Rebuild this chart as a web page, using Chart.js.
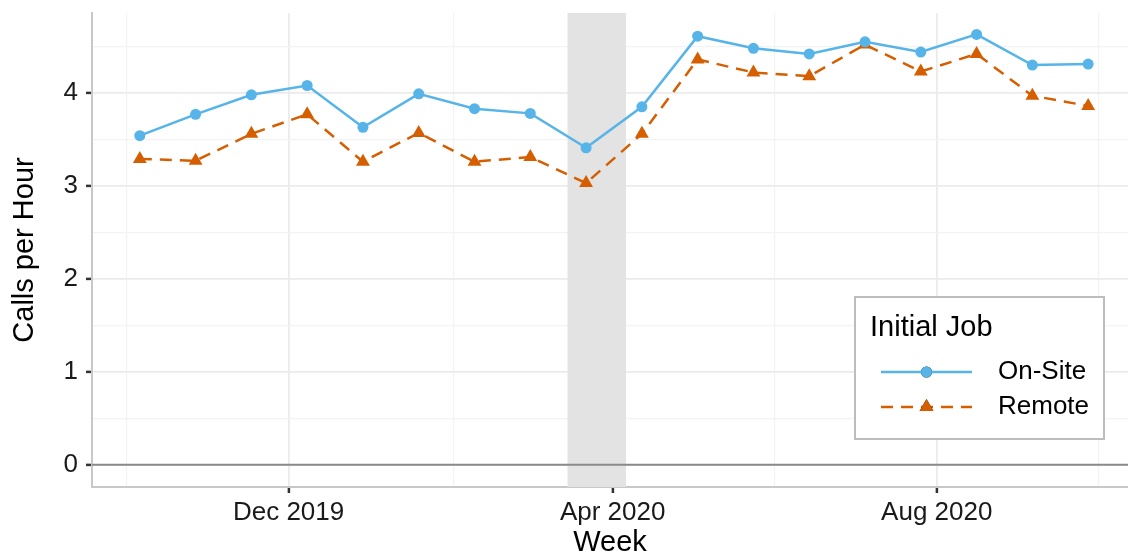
<!DOCTYPE html>
<html>
<head>
<meta charset="utf-8">
<script src="https://cdn.jsdelivr.net/npm/chart.js@4.4.0/dist/chart.umd.min.js"></script>
<style>
  html, body { margin: 0; padding: 0; background: #fff; overflow: hidden; }
  canvas { display: block; }
</style>
</head>
<body>
<canvas id="callsChart" width="1128" height="557"></canvas>
<script>
// weeks sampled every 3 weeks
const weeks = ['2019-10-06', '2019-10-27', '2019-11-17', '2019-12-08', '2019-12-29', '2020-01-19',
  '2020-02-09', '2020-03-01', '2020-03-22', '2020-04-12', '2020-05-03', '2020-05-24',
  '2020-06-14', '2020-07-05', '2020-07-26', '2020-08-16', '2020-09-06', '2020-09-27'];
const onSite = [3.54, 3.77, 3.98, 4.08, 3.63, 3.99, 3.83, 3.78, 3.41, 3.85, 4.61, 4.48, 4.42, 4.55, 4.44, 4.63, 4.30, 4.31];
const remote = [3.29, 3.27, 3.56, 3.77, 3.26, 3.57, 3.26, 3.31, 3.03, 3.56, 4.36, 4.22, 4.18, 4.52, 4.23, 4.42, 3.97, 3.86];

const xTickDates = ['2019-12-01', '2020-04-01', '2020-08-01'];
const xTickLabels = ['Dec 2019', 'Apr 2020', 'Aug 2020'];
const xMinorDates = ['2019-10-01', '2020-02-01', '2020-06-01', '2020-10-01'];
const xLimits = ['2019-09-18', '2020-10-12'];
const yTicks = [0, 1, 2, 3, 4];
const yMinor = [0.5, 1.5, 2.5, 3.5, 4.5];
const yLimits = [-0.24, 4.86];
const shadeDates = ['2020-03-15', '2020-04-06'];

const FONT = "'Liberation Sans', Arial, sans-serif";
const BLUE = '#56B4E9';
const ORANGE = '#D55E00';

function toDay(s) {
  const [y, m, d] = s.split('-').map(Number);
  return Date.UTC(y, m - 1, d) / 864e5;
}
const majorX = xTickDates.map(toDay);
const minorX = xMinorDates.map(toDay);

// no extra room for half tick labels, panel goes to the edges
function noPad(scale) {
  scale.paddingTop = 0;
  scale.paddingBottom = 0;
  scale.paddingLeft = 0;
  scale.paddingRight = 0;
}

// shaded period + zero line, under the lines
const shadePlugin = {
  id: 'shade',
  beforeDatasetsDraw(chart) {
    const { ctx, chartArea, scales } = chart;
    const x1 = scales.x.getPixelForValue(toDay(shadeDates[0]));
    const x2 = scales.x.getPixelForValue(toDay(shadeDates[1]));
    ctx.save();
    ctx.fillStyle = '#e3e3e3';
    ctx.fillRect(x1, chartArea.top, x2 - x1, chartArea.bottom - chartArea.top);
    const y0 = scales.y.getPixelForValue(0);
    ctx.strokeStyle = '#8a8a8a';
    ctx.lineWidth = 2;
    ctx.beginPath();
    ctx.moveTo(chartArea.left, y0);
    ctx.lineTo(chartArea.right, y0);
    ctx.stroke();
    ctx.restore();
  }
};

// ggplot style legend box
const legendPlugin = {
  id: 'boxLegend',
  afterDraw(chart) {
    const ctx = chart.ctx;
    ctx.save();
    ctx.fillStyle = '#fff';
    ctx.strokeStyle = '#bdbdbd';
    ctx.lineWidth = 2;
    ctx.fillRect(855, 297, 249, 142);
    ctx.strokeRect(855, 297, 249, 142);
    ctx.fillStyle = '#000';
    ctx.textBaseline = 'middle';
    ctx.font = '29px ' + FONT;
    ctx.fillText('Initial Job', 870, 328);
    ctx.font = '26px ' + FONT;
    chart.data.datasets.forEach((ds, i) => {
      const y = 372 + i * 35;
      ctx.strokeStyle = ds.borderColor;
      ctx.lineWidth = ds.borderWidth;
      ctx.setLineDash(ds.borderDash || []);
      ctx.beginPath();
      ctx.moveTo(881, y);
      ctx.lineTo(972, y);
      ctx.stroke();
      ctx.setLineDash([]);
      Chart.helpers.drawPoint(ctx, {
        pointStyle: ds.pointStyle,
        radius: ds.pointRadius,
        borderWidth: 0
      }, 926.5, y);
      ctx.fillStyle = ds.backgroundColor;
      ctx.fill();
      ctx.fillStyle = '#000';
      ctx.fillText(ds.label, 998, y);
    });
    ctx.restore();
  }
};

new Chart(document.getElementById('callsChart'), {
  type: 'line',
  data: {
    datasets: [{
      label: 'On-Site',
      data: weeks.map((w, i) => ({ x: toDay(w), y: onSite[i] })),
      borderColor: BLUE,
      backgroundColor: BLUE,
      borderWidth: 2.5,
      pointStyle: 'circle',
      pointRadius: 5.5,
      pointBorderWidth: 0,
      tension: 0
    }, {
      label: 'Remote',
      data: weeks.map((w, i) => ({ x: toDay(w), y: remote[i] })),
      borderColor: ORANGE,
      backgroundColor: ORANGE,
      borderWidth: 2.5,
      borderDash: [12, 8],
      pointStyle: 'triangle',
      pointRadius: 8,
      pointBorderWidth: 0,
      tension: 0
    }]
  },
  options: {
    responsive: false,
    animation: false,
    devicePixelRatio: 1,
    layout: { autoPadding: false, padding: { top: 13, right: 0, bottom: 0, left: 0 } },
    plugins: {
      legend: { display: false },
      tooltip: { enabled: false }
    },
    scales: {
      x: {
        type: 'linear',
        min: toDay(xLimits[0]),
        max: toDay(xLimits[1]),
        afterBuildTicks: scale => {
          scale.ticks = majorX.concat(minorX).sort((a, b) => a - b).map(v => ({ value: v }));
        },
        afterFit: scale => { scale.height = 70; noPad(scale); },
        ticks: {
          autoSkip: false,
          maxRotation: 0,
          padding: 4,
          color: '#1a1a1a',
          font: { family: FONT, size: 26 },
          callback: function (value) {
            const i = majorX.indexOf(value);
            return i >= 0 ? xTickLabels[i] : '';
          }
        },
        grid: {
          color: ctx => majorX.includes(ctx.tick && ctx.tick.value) ? '#ebebeb' : '#f3f3f3',
          lineWidth: ctx => majorX.includes(ctx.tick && ctx.tick.value) ? 1.8 : 1.2,
          tickColor: ctx => majorX.includes(ctx.tick && ctx.tick.value) ? '#333' : 'rgba(0,0,0,0)',
          tickLength: 6,
          tickWidth: 2.5
        },
        border: { display: true, color: '#c8c8c8', width: 2 },
        title: {
          display: true,
          text: 'Week',
          color: '#000',
          font: { family: FONT, size: 29, lineHeight: 1 },
          padding: { top: 0, bottom: 0 }
        }
      },
      y: {
        min: yLimits[0],
        max: yLimits[1],
        afterBuildTicks: scale => {
          scale.ticks = yTicks.concat(yMinor).sort((a, b) => a - b).map(v => ({ value: v }));
        },
        afterFit: scale => { scale.width = 92; noPad(scale); },
        ticks: {
          padding: 8,
          color: '#1a1a1a',
          font: { family: FONT, size: 26 },
          callback: value => (yTicks.includes(value) ? String(value) : '')
        },
        grid: {
          color: ctx => yTicks.includes(ctx.tick && ctx.tick.value) ? '#ebebeb' : '#f3f3f3',
          lineWidth: ctx => yTicks.includes(ctx.tick && ctx.tick.value) ? 1.8 : 1.2,
          tickColor: ctx => yTicks.includes(ctx.tick && ctx.tick.value) ? '#333' : 'rgba(0,0,0,0)',
          tickLength: 6,
          tickWidth: 2.5
        },
        border: { display: true, color: '#c8c8c8', width: 2 },
        title: {
          display: true,
          text: 'Calls per Hour',
          color: '#000',
          font: { family: FONT, size: 29, lineHeight: 1 },
          padding: { top: 10, bottom: 0 }
        }
      }
    }
  },
  plugins: [shadePlugin, legendPlugin]
});
</script>
</body>
</html>
